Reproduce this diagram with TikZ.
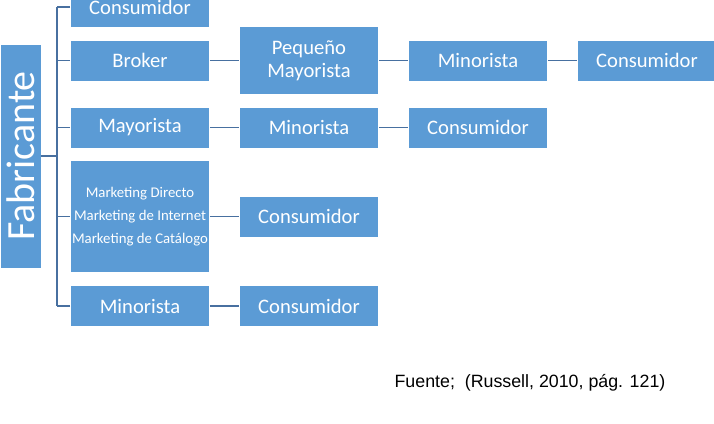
\documentclass[tikz,border=0pt]{standalone}
\usepackage{fontspec}
\setmainfont{Carlito}
\newfontfamily\arialfont{Liberation Sans}
\usepackage{tikz}
\definecolor{boxblue}{RGB}{91,155,213}
\definecolor{linkblue}{RGB}{72,112,160}

\begin{document}
\begin{tikzpicture}[x=0.5pt,y=-0.5pt]
		\useasboundingbox (0,0) rectangle (714,424);

		\begin{scope}[every node/.style={rectangle,fill=boxblue,draw=white,line width=0.3pt,
					  text=white,inner sep=0pt,align=center,
					  minimum width=69.5pt,minimum height=20.5pt,
					  font=\fontsize{10.3}{11.5}\selectfont}]
			\node (F) [minimum width=112pt,minimum height=20.5pt,rotate=90,
				font=\fontsize{20}{24}\selectfont] at (20.5,156) {Fabricante};

			\node (C1) at (140,7) {Consumidor};
			\node (B) at (140,60.5) {Broker};
			\node (M) at (140,127.5) {Mayorista};
			\node (MK) [minimum height=56pt,font=\fontsize{7.4}{11.5}\selectfont] at (140,216.5)
				{Marketing Directo\\Marketing de Internet\\Marketing de Cat\'alogo};
			\node (R) at (140,306) {Minorista};

			\node (PM) [minimum height=34pt] at (309,60.5) {Peque\~no\\Mayorista};
			\node (MR) at (309,127.5) {Minorista};
			\node (MKC) at (309,216.5) {Consumidor};
			\node (RC) at (309,306) {Consumidor};

			\node (PMR) at (478,60.5) {Minorista};
			\node (MRC) at (478,127.5) {Consumidor};

			\node (PMRC) at (647,60.5) {Consumidor};
		\end{scope}

		\coordinate (top) at (57,7);
		\coordinate (bot) at (57,306);

		\begin{scope}[every edge/.style={draw=linkblue,line width=0.6pt}]
			\path (top) edge (bot);
			\path (F.south) edge (F.south -| top);

			\path (C1) edge (C1.west -| top);
			\path (B) edge (B.west -| top);
			\path (M) edge (M.west -| top);
			\path (MK) edge (MK.west -| top);
			\path (R) edge (R.west -| top);

			\path (B) edge (PM);
			\path (PM) edge (PMR);
			\path (PMR) edge (PMRC);

			\path (M) edge (MR);
			\path (MR) edge (MRC);

			\path (MK) edge (MKC);
			\path (R) edge (RC);
		\end{scope}

		\node (src) [font=\arialfont\fontsize{8.9}{10}\selectfont,inner sep=0pt] at (530,383)
			{Fuente;\ \ (Russell, 2010, p\'ag. 121)};
\end{tikzpicture}
\end{document}
